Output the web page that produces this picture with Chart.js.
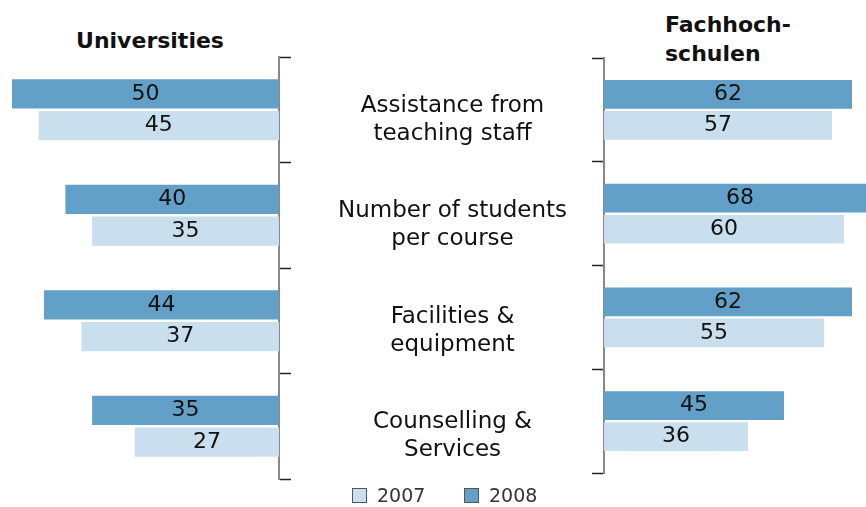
<!DOCTYPE html>
<html>
<head>
<meta charset="utf-8">
<script src="https://cdn.jsdelivr.net/npm/chart.js@4"></script>
<style>
    html, body { margin: 0; padding: 0; background: #fff; }
    body { width: 866px; height: 507px; position: relative; overflow: hidden; font-family: 'DejaVu Sans', Verdana, sans-serif; }
    .chart-box { position: absolute; top: 0; height: 507px; }
    .title { position: absolute; font-weight: bold; font-size: 22px; color: #111; line-height: 29px; }
    .legend-item { position: absolute; top: 484px; display: flex; align-items: center; font-size: 19px; color: #333; }
    .legend-swatch { width: 13px; height: 13px; border: 1.5px solid #555; margin-right: 10px; }
</style>
</head>
<body>
<div class="title" style="left: 0; width: 300px; top: 26px; text-align: center;">Universities</div>
<div class="title" style="left: 665px; top: 10px;">Fachhoch-<br>schulen</div>

<div class="chart-box" style="left: 0; width: 604px;"><canvas id="uniChart"></canvas></div>
<div class="chart-box" style="left: 592px; width: 274px;"><canvas id="fhChart"></canvas></div>
<div id="legend"></div>

<script>
// --- Data ---
const categories = [
    ['Assistance from', 'teaching staff'],
    ['Number of students', 'per course'],
    ['Facilities &', 'equipment'],
    ['Counselling &', 'Services']
];
const years = ['2008', '2007'];
const uni2008 = [50, 40, 44, 35];
const uni2007 = [45, 35, 37, 27];
const fh2008 = [62, 68, 62, 45];
const fh2007 = [57, 60, 55, 36];

const DARK = '#62a0c8';
const LIGHT = '#cadfee';

Chart.defaults.font.family = "'DejaVu Sans', Verdana, sans-serif";

// numbers written in the middle of each bar
const barValueLabels = {
    id: 'barValueLabels',
    afterDatasetsDraw(chart) {
        const ctx = chart.ctx;
        ctx.save();
        ctx.font = "22px 'DejaVu Sans', Verdana, sans-serif";
        ctx.fillStyle = '#111';
        ctx.textAlign = 'center';
        ctx.textBaseline = 'middle';
        chart.data.datasets.forEach((ds, i) => {
            chart.getDatasetMeta(i).data.forEach((bar, j) => {
                ctx.fillText(ds.data[j], (bar.x + bar.base) / 2, bar.y);
            });
        });
        ctx.restore();
    }
};

function makeDatasets(d2008, d2007) {
    return [
        { label: years[0], data: d2008, backgroundColor: DARK, borderWidth: 0,
          categoryPercentage: 0.6, barPercentage: 0.92 },
        { label: years[1], data: d2007, backgroundColor: LIGHT, borderWidth: 0,
          categoryPercentage: 0.6, barPercentage: 0.92 }
    ];
}

const axisGrid = { drawOnChartArea: false, tickLength: 12, tickColor: '#222', tickWidth: 1.5 };
const axisBorder = { color: '#888', width: 2 };

// axis keeps a fixed width and does not steal vertical room for its labels
function fixAxis(width) {
    return s => {
        s.width = width;
        s.paddingTop = 0;
        s.paddingBottom = 0;
    };
}

// --- Universities (bars grow to the left, category names sit in the axis) ---
new Chart(document.getElementById('uniChart'), {
    type: 'bar',
    data: { labels: categories, datasets: makeDatasets(uni2008, uni2007) },
    options: {
        indexAxis: 'y',
        responsive: true,
        maintainAspectRatio: false,
        animation: false,
        layout: { padding: { left: 12, top: 57, bottom: 28, right: 0 } },
        plugins: { legend: { display: false }, tooltip: { enabled: false } },
        scales: {
            x: { type: 'linear', reverse: true, min: 0, max: 50, display: false },
            y: {
                position: 'right',
                afterFit: fixAxis(325),
                border: axisBorder,
                grid: axisGrid,
                ticks: {
                    crossAlign: 'center',
                    padding: 47,
                    labelOffset: 10,
                    autoSkip: false,
                    color: '#111',
                    font: { size: 23, lineHeight: 1.22 }
                }
            }
        }
    },
    plugins: [barValueLabels]
});

// --- Fachhochschulen (bars grow to the right) ---
new Chart(document.getElementById('fhChart'), {
    type: 'bar',
    data: { labels: categories, datasets: makeDatasets(fh2008, fh2007) },
    options: {
        indexAxis: 'y',
        responsive: true,
        maintainAspectRatio: false,
        animation: false,
        layout: { padding: { left: 0, top: 58, bottom: 34, right: 0 } },
        plugins: { legend: { display: false }, tooltip: { enabled: false } },
        scales: {
            x: { type: 'linear', min: 0, max: 65.5, display: false },
            y: {
                position: 'left',
                afterFit: fixAxis(12),
                border: axisBorder,
                grid: axisGrid,
                ticks: { display: false }
            }
        }
    },
    plugins: [barValueLabels]
});

// --- Legend: 2007 first, then 2008 ---
const legend = document.getElementById('legend');
[{ text: years[1], color: LIGHT, left: 352 }, { text: years[0], color: DARK, left: 464 }].forEach(item => {
    legend.innerHTML += `<div class="legend-item" style="left:${item.left}px">
        <span class="legend-swatch" style="background:${item.color}"></span>${item.text}</div>`;
});
</script>
</body>
</html>
